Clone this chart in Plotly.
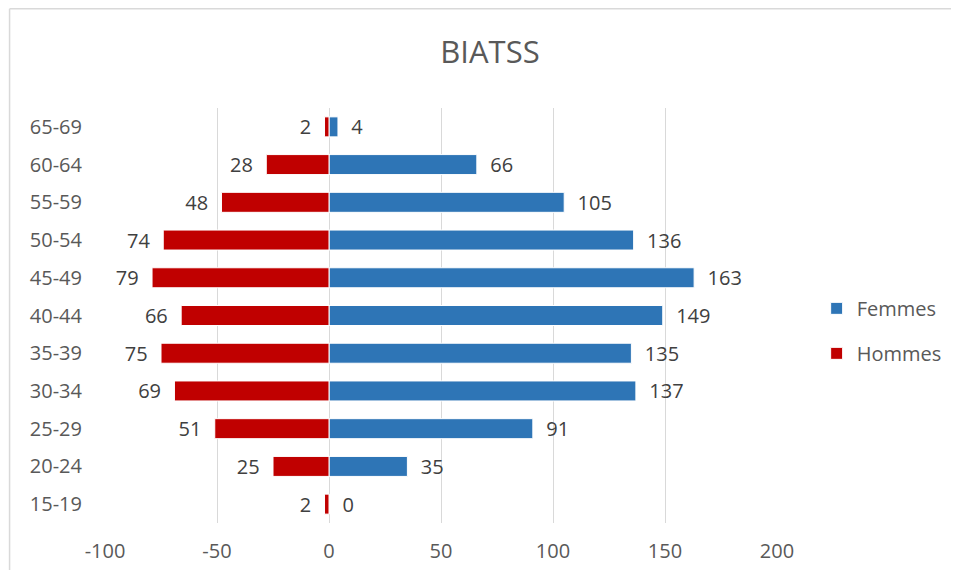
import plotly.graph_objects as go

age_groups = ["15-19", "20-24", "25-29", "30-34", "35-39", "40-44",
              "45-49", "50-54", "55-59", "60-64", "65-69"]
femmes = [0, 35, 91, 137, 135, 149, 163, 136, 105, 66, 4]
hommes = [2, 25, 51, 69, 75, 66, 79, 74, 48, 28, 2]
x_ticks = [-100, -50, 0, 50, 100, 150, 200]

FONT = "Open Sans"
BLUE = "#2E75B6"
RED = "#C00000"
BORDER = "#D9D9D9"

fig = go.Figure()

fig.add_trace(go.Bar(
    y=age_groups, x=femmes, orientation="h", name="Femmes",
    marker=dict(color=BLUE, line=dict(color="white", width=1)),
    width=0.53,
    text=[f"  {v}" for v in femmes], textposition="outside",
    constraintext="none",
    textfont=dict(family=FONT, size=20, color="#404040"),
    cliponaxis=False, legendgroup="f",
))
fig.add_trace(go.Bar(
    y=age_groups, x=[-v for v in hommes], orientation="h", name="Hommes",
    marker=dict(color=RED, line=dict(color="white", width=1)),
    width=0.53,
    text=[f"{v}  " for v in hommes], textposition="outside",
    constraintext="none",
    textfont=dict(family=FONT, size=20, color="#404040"),
    cliponaxis=False, legendgroup="h",
))

# outer chart border: only the top and left edges are in the picture
fig.add_shape(type="line", xref="paper", yref="paper",
              x0=-0.142, x1=1.3, y0=1.239, y1=1.239,
              line=dict(color=BORDER, width=1.5), layer="below")
fig.add_shape(type="line", xref="paper", yref="paper",
              x0=-0.142, x1=-0.142, y0=-0.2, y1=1.239,
              line=dict(color=BORDER, width=1.5), layer="below")

# page body has an 8px margin: keep the figure inside the window (no scrollbars)
fig.update_layout(
    width=943, height=562,
    margin=dict(l=97, r=174, t=100, b=47, autoexpand=False),
    barmode="overlay",
    plot_bgcolor="white", paper_bgcolor="white",
    title=dict(text="BIATSS", x=482 / 943, xref="container", xanchor="center",
               y=1 - 44 / 562, yanchor="middle", automargin=False,
               font=dict(family=FONT, size=31, color="#595959")),
    font=dict(family=FONT, size=20, color="#595959"),
    legend=dict(x=1.059, xanchor="left", y=0.463, yanchor="middle",
                traceorder="grouped", tracegroupgap=16,
                font=dict(family=FONT, size=20, color="#595959")),
    showlegend=True,
)
fig.update_xaxes(
    range=[-100, 200], tickvals=x_ticks, ticktext=[str(v) for v in x_ticks],
    showgrid=True, gridcolor="#D9D9D9", gridwidth=1,
    zeroline=True, zerolinecolor="#D9D9D9", zerolinewidth=1,
    ticklabelstandoff=14, showline=False, automargin=False,
)
fig.update_yaxes(
    showgrid=False, ticklabelstandoff=22, showline=False, automargin=False,
)

fig.write_html("out.html")
